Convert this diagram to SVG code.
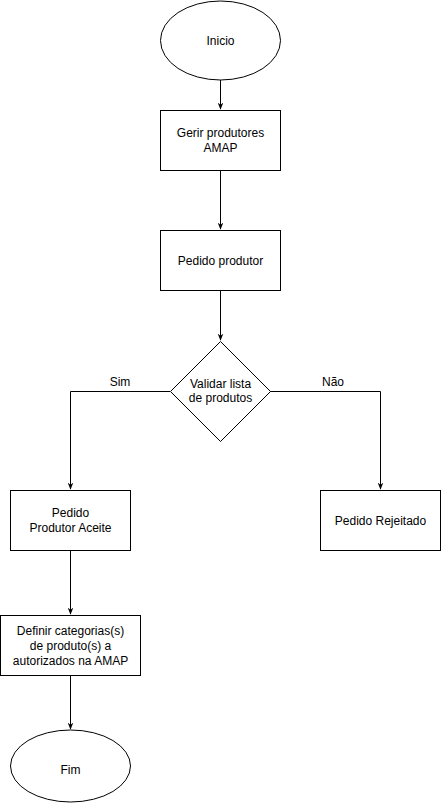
<svg xmlns="http://www.w3.org/2000/svg" width="441" height="811" viewBox="0 0 441 811">
<defs>
<marker id="arr" viewBox="0 0 10 10" refX="9" refY="5" markerWidth="7" markerHeight="7" markerUnits="userSpaceOnUse" orient="auto">
<path d="M0,1 L10,5 L0,9 L3,5 Z" fill="#000"/>
</marker>
<style>
.s{fill:#fff;stroke:#000;stroke-width:1}
.t{font-family:"Liberation Sans",Arial,Helvetica,sans-serif;font-size:12px;fill:#000;text-anchor:middle}
.e{fill:none;stroke:#000;stroke-width:1;marker-end:url(#arr)}
</style>
</defs>
<rect width="441" height="811" fill="#fff"/>
<g id="connectors">
<path class="e" d="M220.5,80 L220.5,109"/>
<path class="e" d="M220.5,170 L220.5,229"/>
<path class="e" d="M220.5,290 L220.5,340"/>
<path class="e" d="M170,391.5 L70.5,391.5 L70.5,489"/>
<path class="e" d="M270,391.5 L380.5,391.5 L380.5,489"/>
<path class="e" d="M70.5,550 L70.5,614"/>
<path class="e" d="M70.5,675 L70.5,729"/>
<text class="t" x="120" y="386">Sim</text>
<text class="t" x="333" y="386">Não</text>
</g>
<g id="inicio">
<ellipse class="s" cx="220.5" cy="40.5" rx="60" ry="39.5"/>
<text class="t" x="220.5" y="45">Inicio</text>
</g>
<g id="gerir">
<rect class="s" x="160.5" y="110.5" width="120" height="60"/>
<text class="t" x="220.5" y="137">Gerir produtores</text>
<text class="t" x="220.5" y="152">AMAP</text>
</g>
<g id="pedido">
<rect class="s" x="160.5" y="230.5" width="120" height="60"/>
<text class="t" x="220.5" y="265">Pedido produtor</text>
</g>
<g id="validar">
<polygon class="s" points="220.5,341.5 270.5,391.5 220.5,441.5 170.5,391.5"/>
<text class="t" x="220.5" y="388">Validar lista</text>
<text class="t" x="220.5" y="402">de produtos</text>
</g>
<g id="aceite">
<rect class="s" x="10.5" y="490.5" width="120" height="60"/>
<text class="t" x="70.5" y="517">Pedido</text>
<text class="t" x="70.5" y="532">Produtor Aceite</text>
</g>
<g id="rejeitado">
<rect class="s" x="320.5" y="490.5" width="120" height="60"/>
<text class="t" x="380.5" y="525">Pedido Rejeitado</text>
</g>
<g id="definir">
<rect class="s" x="0.5" y="615.5" width="140" height="60"/>
<text class="t" x="70.5" y="635">Definir categorias(s)</text>
<text class="t" x="70.5" y="650">de produto(s) a</text>
<text class="t" x="70.5" y="665">autorizados na AMAP</text>
</g>
<g id="fim">
<ellipse class="s" cx="70.5" cy="766" rx="60" ry="36"/>
<text class="t" x="70.5" y="774">Fim</text>
</g>
</svg>
